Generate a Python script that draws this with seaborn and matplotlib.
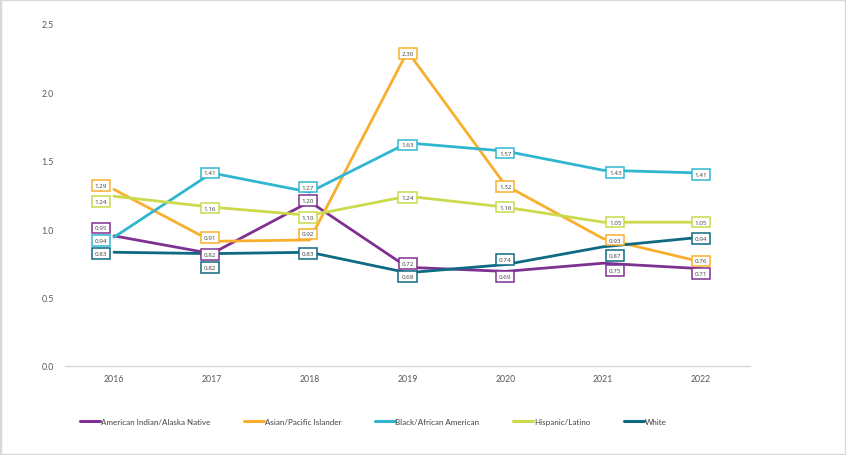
import matplotlib
matplotlib.use("Agg")
import matplotlib.pyplot as plt
import seaborn as sns
import pandas as pd
from matplotlib.patches import Rectangle

years = ["2016", "2017", "2018", "2019", "2020", "2021", "2022"]
groups = ["American Indian/Alaska Native", "Asian/Pacific Islander",
          "Black/African American", "Hispanic/Latino", "White"]
aian = [0.95, 0.82, 1.20, 0.72, 0.69, 0.75, 0.71]
api = [1.29, 0.91, 0.92, 2.30, 1.32, 0.93, 0.76]
black = [0.94, 1.41, 1.27, 1.63, 1.57, 1.43, 1.41]
hispanic = [1.24, 1.16, 1.10, 1.24, 1.16, 1.05, 1.05]
white = [0.83, 0.82, 0.83, 0.68, 0.74, 0.87, 0.94]
series = [aian, api, black, hispanic, white]

colors = ["#7E3190", "#F9AF2E", "#31B6D0", "#CBDA4D", "#0D6A82"]

# label offsets (pixels, +down) and x shifts per year
lab_dy = [
    [-8, 1, -1, -4, 5, 7, 5],
    [-4, -4, -6, 2, 1, 1.5, -1],
    [3, 0, -5, 2, 2, 2.5, 1.5],
    [5, 1, 2, 1.5, 0, 0, 0],
    [1, 14, 1.5, 4, -5, 9, 1],
]
lab_dx = [-13, -2, -2, 0, 0, 12, 0]

rows = []
for g, vals in zip(groups, series):
    for i, v in enumerate(vals):
        rows.append({"Year": i, "Group": g, "Value": v})
df = pd.DataFrame(rows)

sns.set_theme(style="white")
plt.rcParams["font.family"] = ["Lato", "DejaVu Sans"]

W, H = 846, 456
fig = plt.figure(figsize=(W / 100, H / 100), dpi=100)
ax = fig.add_axes([65 / W, 1 - 366.7 / H, (750 - 65) / W, (366.7 - 25) / H])

sns.lineplot(data=df, x="Year", y="Value", hue="Group", hue_order=groups,
             palette=colors, linewidth=2.0, ax=ax, legend=False)

for gi, vals in enumerate(series):
    for i, v in enumerate(vals):
        ax.annotate(f"{v:.2f}", xy=(i, v), xytext=(lab_dx[i], -lab_dy[gi][i]),
                    textcoords="offset pixels", ha="center", va="center",
                    fontsize=4.5, color="#404040", zorder=5,
                    family=["Open Sans", "DejaVu Sans"],
                    bbox=dict(boxstyle="square,pad=0.45", fc="white",
                              ec=colors[gi], lw=1.1))

ax.set_xlim(-0.5, 6.5)
ax.set_ylim(0, 2.5)
ax.set_xticks(range(len(years)))
ax.set_xticklabels(years)
ax.set_yticks([0, 0.5, 1.0, 1.5, 2.0, 2.5])
ax.set_yticklabels(["0.0", "0.5", "1.0", "1.5", "2.0", "2.5"])
ax.tick_params(axis="both", length=0, labelsize=6.3, colors="#595959")
ax.tick_params(axis="x", pad=6)
ax.tick_params(axis="y", pad=8)
ax.set_xlabel("")
ax.set_ylabel("")
for s in ["top", "right", "left"]:
    ax.spines[s].set_visible(False)
ax.spines["bottom"].set_color("#D9D9D9")
ax.spines["bottom"].set_linewidth(1.0)
ax.grid(False)

handles = [plt.Line2D([], [], color=c, lw=2.2) for c in colors]
fig.legend(handles, groups, loc="center left",
           bbox_to_anchor=(73 / W, 1 - 422.7 / H), ncol=5, frameon=False,
           fontsize=5.8, handlelength=2.45, handletextpad=0.1,
           columnspacing=4.2, labelcolor="#404040")

fig.patches.append(Rectangle((0, 0), 1, 1, transform=fig.transFigure,
                             fill=False, ec="#D9D9D9", lw=2.5))

fig.savefig("out.png", dpi=100)
